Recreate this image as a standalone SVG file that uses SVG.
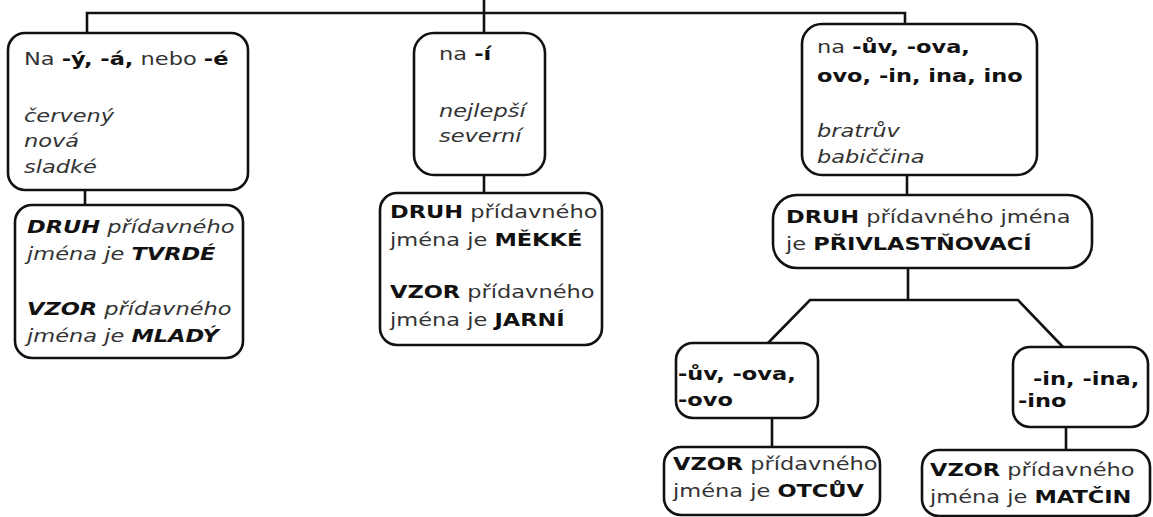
<svg xmlns="http://www.w3.org/2000/svg" width="1153" height="517" viewBox="0 0 1153 517">
<style>
.box{fill:#fff;stroke:#111;stroke-width:2.6}
.conn{fill:none;stroke:#111;stroke-width:2.6}
text{font-family:"DejaVu Sans",Verdana,sans-serif;font-size:18px;fill:#333}
.b{font-weight:bold;fill:#111}
.i{font-style:italic}
</style>
<rect width="1153" height="517" fill="#fff"/>
<g id="connectors">
<path class="conn" d="M484 0V33M87 33V13H905V24"/>
<path class="conn" d="M85 190V205"/>
<path class="conn" d="M484 175V193"/>
<path class="conn" d="M907 175V195"/>
<path class="conn" d="M908 268V300M768 343L810 300H1018L1063 347"/>
<path class="conn" d="M772 418V447"/>
<path class="conn" d="M1066 427V450"/>
</g>
<g id="n-tvrde-ending">
<rect class="box" x="8" y="33" width="240" height="157" rx="17"/>
<text transform="translate(24,65) scale(1.25,1)">Na <tspan class="b">-ý, -á,</tspan> nebo <tspan class="b">-é</tspan></text>
<text class="i" transform="translate(24,122) scale(1.25,1)">červený</text>
<text class="i" transform="translate(24,147) scale(1.25,1)">nová</text>
<text class="i" transform="translate(24,173) scale(1.25,1)">sladké</text>
</g>
<g id="n-tvrde">
<rect class="box" x="15" y="205" width="228" height="153" rx="17"/>
<text class="i" transform="translate(27,233) scale(1.25,1)"><tspan class="b">DRUH</tspan> přídavného</text>
<text class="i" transform="translate(27,260) scale(1.25,1)">jména je <tspan class="b">TVRDÉ</tspan></text>
<text class="i" transform="translate(27,315) scale(1.25,1)"><tspan class="b">VZOR</tspan> přídavného</text>
<text class="i" transform="translate(27,342) scale(1.25,1)">jména je <tspan class="b">MLADÝ</tspan></text>
</g>
<g id="n-mekke-ending">
<rect class="box" x="414" y="33" width="131" height="142" rx="20"/>
<text transform="translate(439,60) scale(1.25,1)">na <tspan class="b">-í</tspan></text>
<text class="i" transform="translate(439,117) scale(1.25,1)">nejlepší</text>
<text class="i" transform="translate(439,142) scale(1.25,1)">severní</text>
</g>
<g id="n-mekke">
<rect class="box" x="380" y="193" width="222" height="152" rx="17"/>
<text transform="translate(390,218) scale(1.25,1)"><tspan class="b">DRUH</tspan> přídavného</text>
<text transform="translate(390,246) scale(1.25,1)">jména je <tspan class="b">MĚKKÉ</tspan></text>
<text transform="translate(390,298) scale(1.25,1)"><tspan class="b">VZOR</tspan> přídavného</text>
<text transform="translate(390,326) scale(1.25,1)">jména je <tspan class="b">JARNÍ</tspan></text>
</g>
<g id="n-privl-ending">
<rect class="box" x="802" y="24" width="235" height="151" rx="20"/>
<text transform="translate(817,53) scale(1.25,1)">na <tspan class="b">-ův, -ova,</tspan></text>
<text class="b" transform="translate(817,82) scale(1.25,1)">ovo, -in, ina, ino</text>
<text class="i" transform="translate(817,137) scale(1.25,1)">bratrův</text>
<text class="i" transform="translate(817,163) scale(1.25,1)">babiččina</text>
</g>
<g id="n-privl">
<rect class="box" x="773" y="195" width="319" height="73" rx="24"/>
<text transform="translate(786,223) scale(1.25,1)"><tspan class="b">DRUH</tspan> přídavného jména</text>
<text transform="translate(786,250) scale(1.25,1)">je <tspan class="b">PŘIVLASTŇOVACÍ</tspan></text>
</g>
<g id="n-uv">
<rect class="box" x="676" y="343" width="142" height="75" rx="17"/>
<text class="b" transform="translate(678,380) scale(1.25,1)">-ův, -ova,</text>
<text class="b" transform="translate(678,406) scale(1.25,1)">-ovo</text>
</g>
<g id="n-otcuv">
<rect class="box" x="664" y="447" width="216" height="68" rx="17"/>
<text transform="translate(673,470) scale(1.25,1)"><tspan class="b">VZOR</tspan> přídavného</text>
<text transform="translate(673,497) scale(1.25,1)">jména je <tspan class="b">OTCŮV</tspan></text>
</g>
<g id="n-in">
<rect class="box" x="1013" y="347" width="135" height="80" rx="17"/>
<text class="b" transform="translate(1033,385) scale(1.25,1)">-in, -ina,</text>
<text class="b" transform="translate(1018,407) scale(1.25,1)">-ino</text>
</g>
<g id="n-matcin">
<rect class="box" x="922" y="450" width="228" height="66" rx="17"/>
<text transform="translate(930,476) scale(1.25,1)"><tspan class="b">VZOR</tspan> přídavného</text>
<text transform="translate(930,503) scale(1.25,1)">jména je <tspan class="b">MATČIN</tspan></text>
</g>
</svg>
